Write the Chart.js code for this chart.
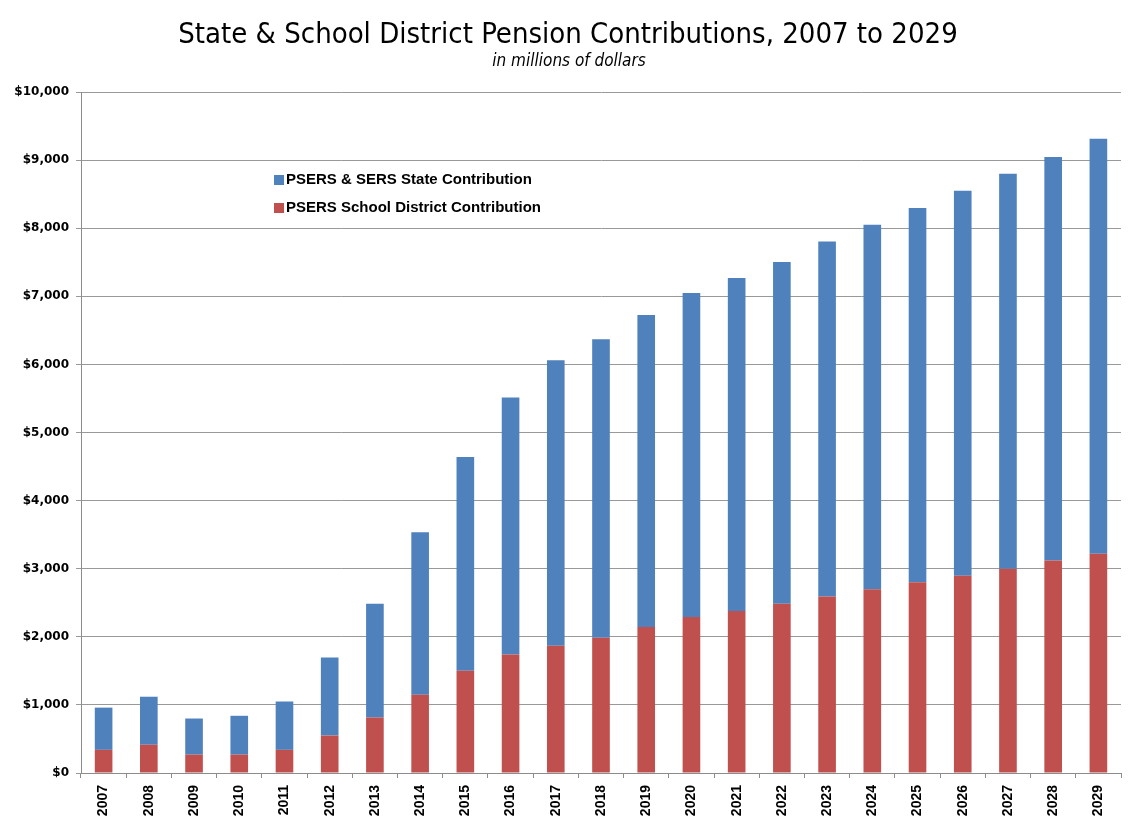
<!DOCTYPE html>
<html>
<head>
<meta charset="utf-8">
<script src="https://cdn.jsdelivr.net/npm/chart.js@4/dist/chart.umd.min.js"></script>
<style>
  html, body { margin: 0; padding: 0; background: #fff; }
  #pension { display: block; }
</style>
</head>
<body>
<canvas id="pension" width="1140" height="830"></canvas>
<script>
// fiscal years on the x axis
const years = ['2007', '2008', '2009', '2010', '2011', '2012', '2013', '2014', '2015', '2016', '2017', '2018',
    '2019', '2020', '2021', '2022', '2023', '2024', '2025', '2026', '2027', '2028', '2029'];
// PSERS school district share (bottom, red), $ millions
const districtContribution = [340, 415, 270, 270, 340, 550, 815, 1150, 1500, 1740, 1870, 1985,
    2145, 2290, 2380, 2485, 2590, 2700, 2800, 2895, 3000, 3120, 3220];
// PSERS & SERS state share (stacked on top, blue), $ millions
const stateContribution = [620, 705, 530, 570, 710, 1145, 1670, 2385, 3140, 3775, 4190, 4385,
    4580, 4760, 4890, 5020, 5215, 5350, 5495, 5655, 5800, 5925, 6095];
const yTicks = [0, 1000, 2000, 3000, 4000, 5000, 6000, 7000, 8000, 9000, 10000];

const titleText = 'State & School District Pension Contributions, 2007 to 2029';
const subtitleText = 'in millions of dollars';
const dollarFormat = new Intl.NumberFormat('en-US');

// title + subtitle drawn above the plot
const titleOverlay = {
    id: 'titleOverlay',
    afterDraw(chart) {
        const { ctx } = chart;
        ctx.save();
        ctx.fillStyle = '#000';
        ctx.textAlign = 'center';
        ctx.textBaseline = 'alphabetic';
        ctx.font = '29px "Liberation Sans Narrow", "DejaVu Sans Condensed", "Liberation Sans", sans-serif';
        ctx.fillText(titleText, 568, 43);
        ctx.font = 'italic 17px "DejaVu Sans Condensed", "Liberation Sans", sans-serif';
        ctx.fillText(subtitleText, 569, 66);
        ctx.restore();
    }
};

// legend sits inside the plot, upper left
const insideLegend = {
    id: 'insideLegend',
    afterDraw(chart) {
        const { ctx } = chart;
        const items = [chart.data.datasets[1], chart.data.datasets[0]];
        ctx.save();
        ctx.font = 'bold 15px "Liberation Sans", Arial, sans-serif';
        ctx.textBaseline = 'middle';
        ctx.textAlign = 'left';
        items.forEach((ds, i) => {
            const y = 180 + i * 28;
            ctx.fillStyle = ds.backgroundColor;
            ctx.fillRect(274, y - 5, 10, 10);
            ctx.fillStyle = '#000';
            ctx.fillText(ds.label, 286, y);
        });
        ctx.restore();
    }
};

new Chart(document.getElementById('pension'), {
    type: 'bar',
    plugins: [titleOverlay, insideLegend],
    data: {
        labels: years,
        datasets: [
            {
                label: 'PSERS School District Contribution',
                data: districtContribution,
                backgroundColor: '#C0504D',
                barPercentage: 0.39,
                categoryPercentage: 1
            },
            {
                label: 'PSERS & SERS State Contribution',
                data: stateContribution,
                backgroundColor: '#4F81BD',
                barPercentage: 0.39,
                categoryPercentage: 1
            }
        ]
    },
    options: {
        responsive: false,
        animation: false,
        layout: { padding: { top: 92, right: 19, left: 0, bottom: 0 } },
        plugins: {
            legend: { display: false },
            tooltip: { enabled: false }
        },
        scales: {
            x: {
                stacked: true,
                afterFit(scale) { scale.height = 57; },
                grid: {
                    offset: true,
                    drawOnChartArea: false,
                    drawTicks: true,
                    tickLength: 5,
                    color: '#8c8c8c'
                },
                border: { color: '#8c8c8c', width: 1 },
                ticks: {
                    minRotation: 90,
                    maxRotation: 90,
                    autoSkip: false,
                    padding: 7,
                    color: '#000',
                    font: { family: '"Liberation Sans", Arial, sans-serif', size: 14, weight: 'bold' }
                }
            },
            y: {
                stacked: true,
                min: 0,
                max: 10000,
                afterFit(scale) { scale.width = 81; },
                afterBuildTicks(scale) {
                    scale.ticks = yTicks.map((v) => ({ value: v }));
                },
                grid: {
                    color: '#999',
                    lineWidth: 1,
                    tickLength: 5
                },
                border: { color: '#8c8c8c', width: 1 },
                ticks: {
                    padding: 7,
                    color: '#000',
                    font: { family: '"DejaVu Sans", Verdana, sans-serif', size: 12, weight: 'bold' },
                    callback(value) {
                        return '$' + dollarFormat.format(value);
                    }
                }
            }
        }
    }
});
</script>
</body>
</html>
